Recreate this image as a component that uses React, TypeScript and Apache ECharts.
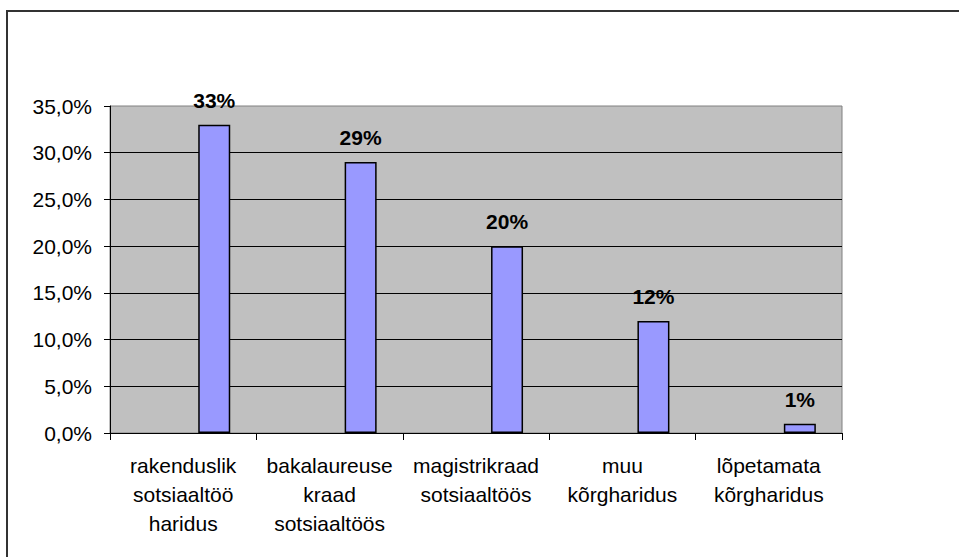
import React, { useEffect, useRef } from "react";
import * as echarts from "echarts";

const categories = [
  "rakenduslik\nsotsiaaltöö\nharidus",
  "bakalaureuse\nkraad\nsotsiaaltöös",
  "magistrikraad\nsotsiaaltöös",
  "muu\nkõrgharidus",
  "lõpetamata\nkõrgharidus",
];
const values = [33, 29, 20, 12, 1];
const emptySeries = [null, null, null, null, null];
const yMin = 0;
const yMax = 35;
const yInterval = 5;

const FONT = "'Liberation Sans', Arial, sans-serif";

export default function App() {
  const ref = useRef<HTMLDivElement>(null);
  useEffect(() => {
    if (!ref.current) return;
    const chart = echarts.init(ref.current, undefined, { renderer: "svg" });
    chart.setOption({
      animation: false,
      backgroundColor: "#ffffff",
      textStyle: { fontFamily: FONT },
      grid: {
        left: 110,
        right: 117,
        top: 106,
        bottom: 124,
        show: true,
        backgroundColor: "#C0C0C0",
        borderColor: "#808080",
        borderWidth: 1,
      },
      xAxis: {
        type: "category",
        data: categories,
        boundaryGap: true,
        axisLine: { show: true, lineStyle: { color: "#000", width: 1 } },
        axisTick: { show: true, length: 7, interval: 0, lineStyle: { color: "#000" } },
        axisLabel: {
          interval: 0,
          margin: 18,
          color: "#000",
          fontSize: 21,
          lineHeight: 29,
          fontFamily: FONT,
        },
      },
      yAxis: {
        type: "value",
        min: yMin,
        max: yMax,
        interval: yInterval,
        axisLine: { show: true, lineStyle: { color: "#000", width: 1 } },
        axisTick: { show: true, length: 6, lineStyle: { color: "#000" } },
        axisLabel: {
          margin: 18,
          color: "#000",
          fontSize: 21,
          fontFamily: FONT,
          formatter: (v: number) => v.toFixed(1).replace(".", ",") + "%",
        },
        splitLine: {
          show: true,
          showMaxLine: false,
          lineStyle: { color: "#000", width: 1 },
        },
      },
      graphic: [
        {
          type: "rect",
          shape: { x: 7, y: 11, width: 1000, height: 600 },
          style: { fill: "none", stroke: "#333333", lineWidth: 2 },
          silent: true,
        },
      ],
      series: [
        {
          type: "bar",
          data: emptySeries,
          barWidth: 32,
          barGap: "94%",
          silent: true,
        },
        {
          type: "bar",
          data: values,
          barWidth: 32,
          barGap: "94%",
          itemStyle: { color: "#9999FF", borderColor: "#000", borderWidth: 1.5 },
          label: {
            show: true,
            position: "top",
            distance: 14,
            color: "#000",
            fontWeight: "bold",
            fontSize: 21,
            lineHeight: 21,
            fontFamily: FONT,
            formatter: (p: any) => p.value + "%",
          },
        },
      ],
    });
    return () => chart.dispose();
  }, []);
  return (
    <div
      ref={ref}
      style={{ position: "fixed", left: 0, top: 0, width: 959, height: 557 }}
    />
  );
}
